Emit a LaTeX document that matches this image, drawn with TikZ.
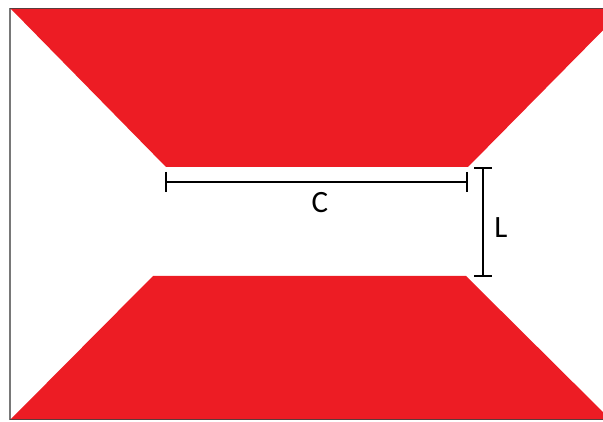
\documentclass[tikz,border=0pt]{standalone}
\usepackage{fontspec}
\setmainfont{Carlito}
\usepackage{tikz}
\usetikzlibrary{calc}
\definecolor{plate}{RGB}{237,28,36}
\definecolor{frame}{RGB}{120,120,120}
\definecolor{edge}{RGB}{90,60,60}
\tikzset{
    plate/.style={fill=plate,draw=none},
    dim/.style={line width=1.6pt,black},
    dimlabel/.style={font=\fontsize{31}{36}\selectfont,inner sep=0pt}
}
\begin{document}
\begin{tikzpicture}[x=1pt,y=1pt]
    \useasboundingbox (0,0) rectangle (603,421);
    \clip (0,0) rectangle (603,421);
    % red plates
    \fill[plate] (11,412) -- (624,412) -- (468,254) -- (166,254) -- cycle;
    \fill[plate] (11,2) -- (610,2) -- (466,145) -- (153,145) -- cycle;
    % frame
    \draw[frame,line width=2pt] (10,1) -- (10,413);
    \draw[edge,line width=1.5pt] (10,412.5) -- (603,412.5);
    \draw[edge,line width=1.5pt] (10,1.5) -- (603,1.5);
    % dimension C
    \coordinate (cl) at (166,239);
    \coordinate (cr) at (467,239);
    \draw[dim] (cl) -- (cr);
    \draw[dim] ($(cl)+(0,10)$) -- ($(cl)+(0,-10)$);
    \draw[dim] ($(cr)+(0,10)$) -- ($(cr)+(0,-10)$);
    \node[dimlabel] (clab) at (320,218) {C};
    % dimension L
    \coordinate (lt) at (483,253);
    \coordinate (lb) at (483,145);
    \draw[dim] (lt) -- (lb);
    \draw[dim] ($(lt)+(-9,0)$) -- ($(lt)+(9,0)$);
    \draw[dim] ($(lb)+(-9,0)$) -- ($(lb)+(9,0)$);
    \node[dimlabel] (llab) at (501,193) {L};
\end{tikzpicture}
\end{document}
